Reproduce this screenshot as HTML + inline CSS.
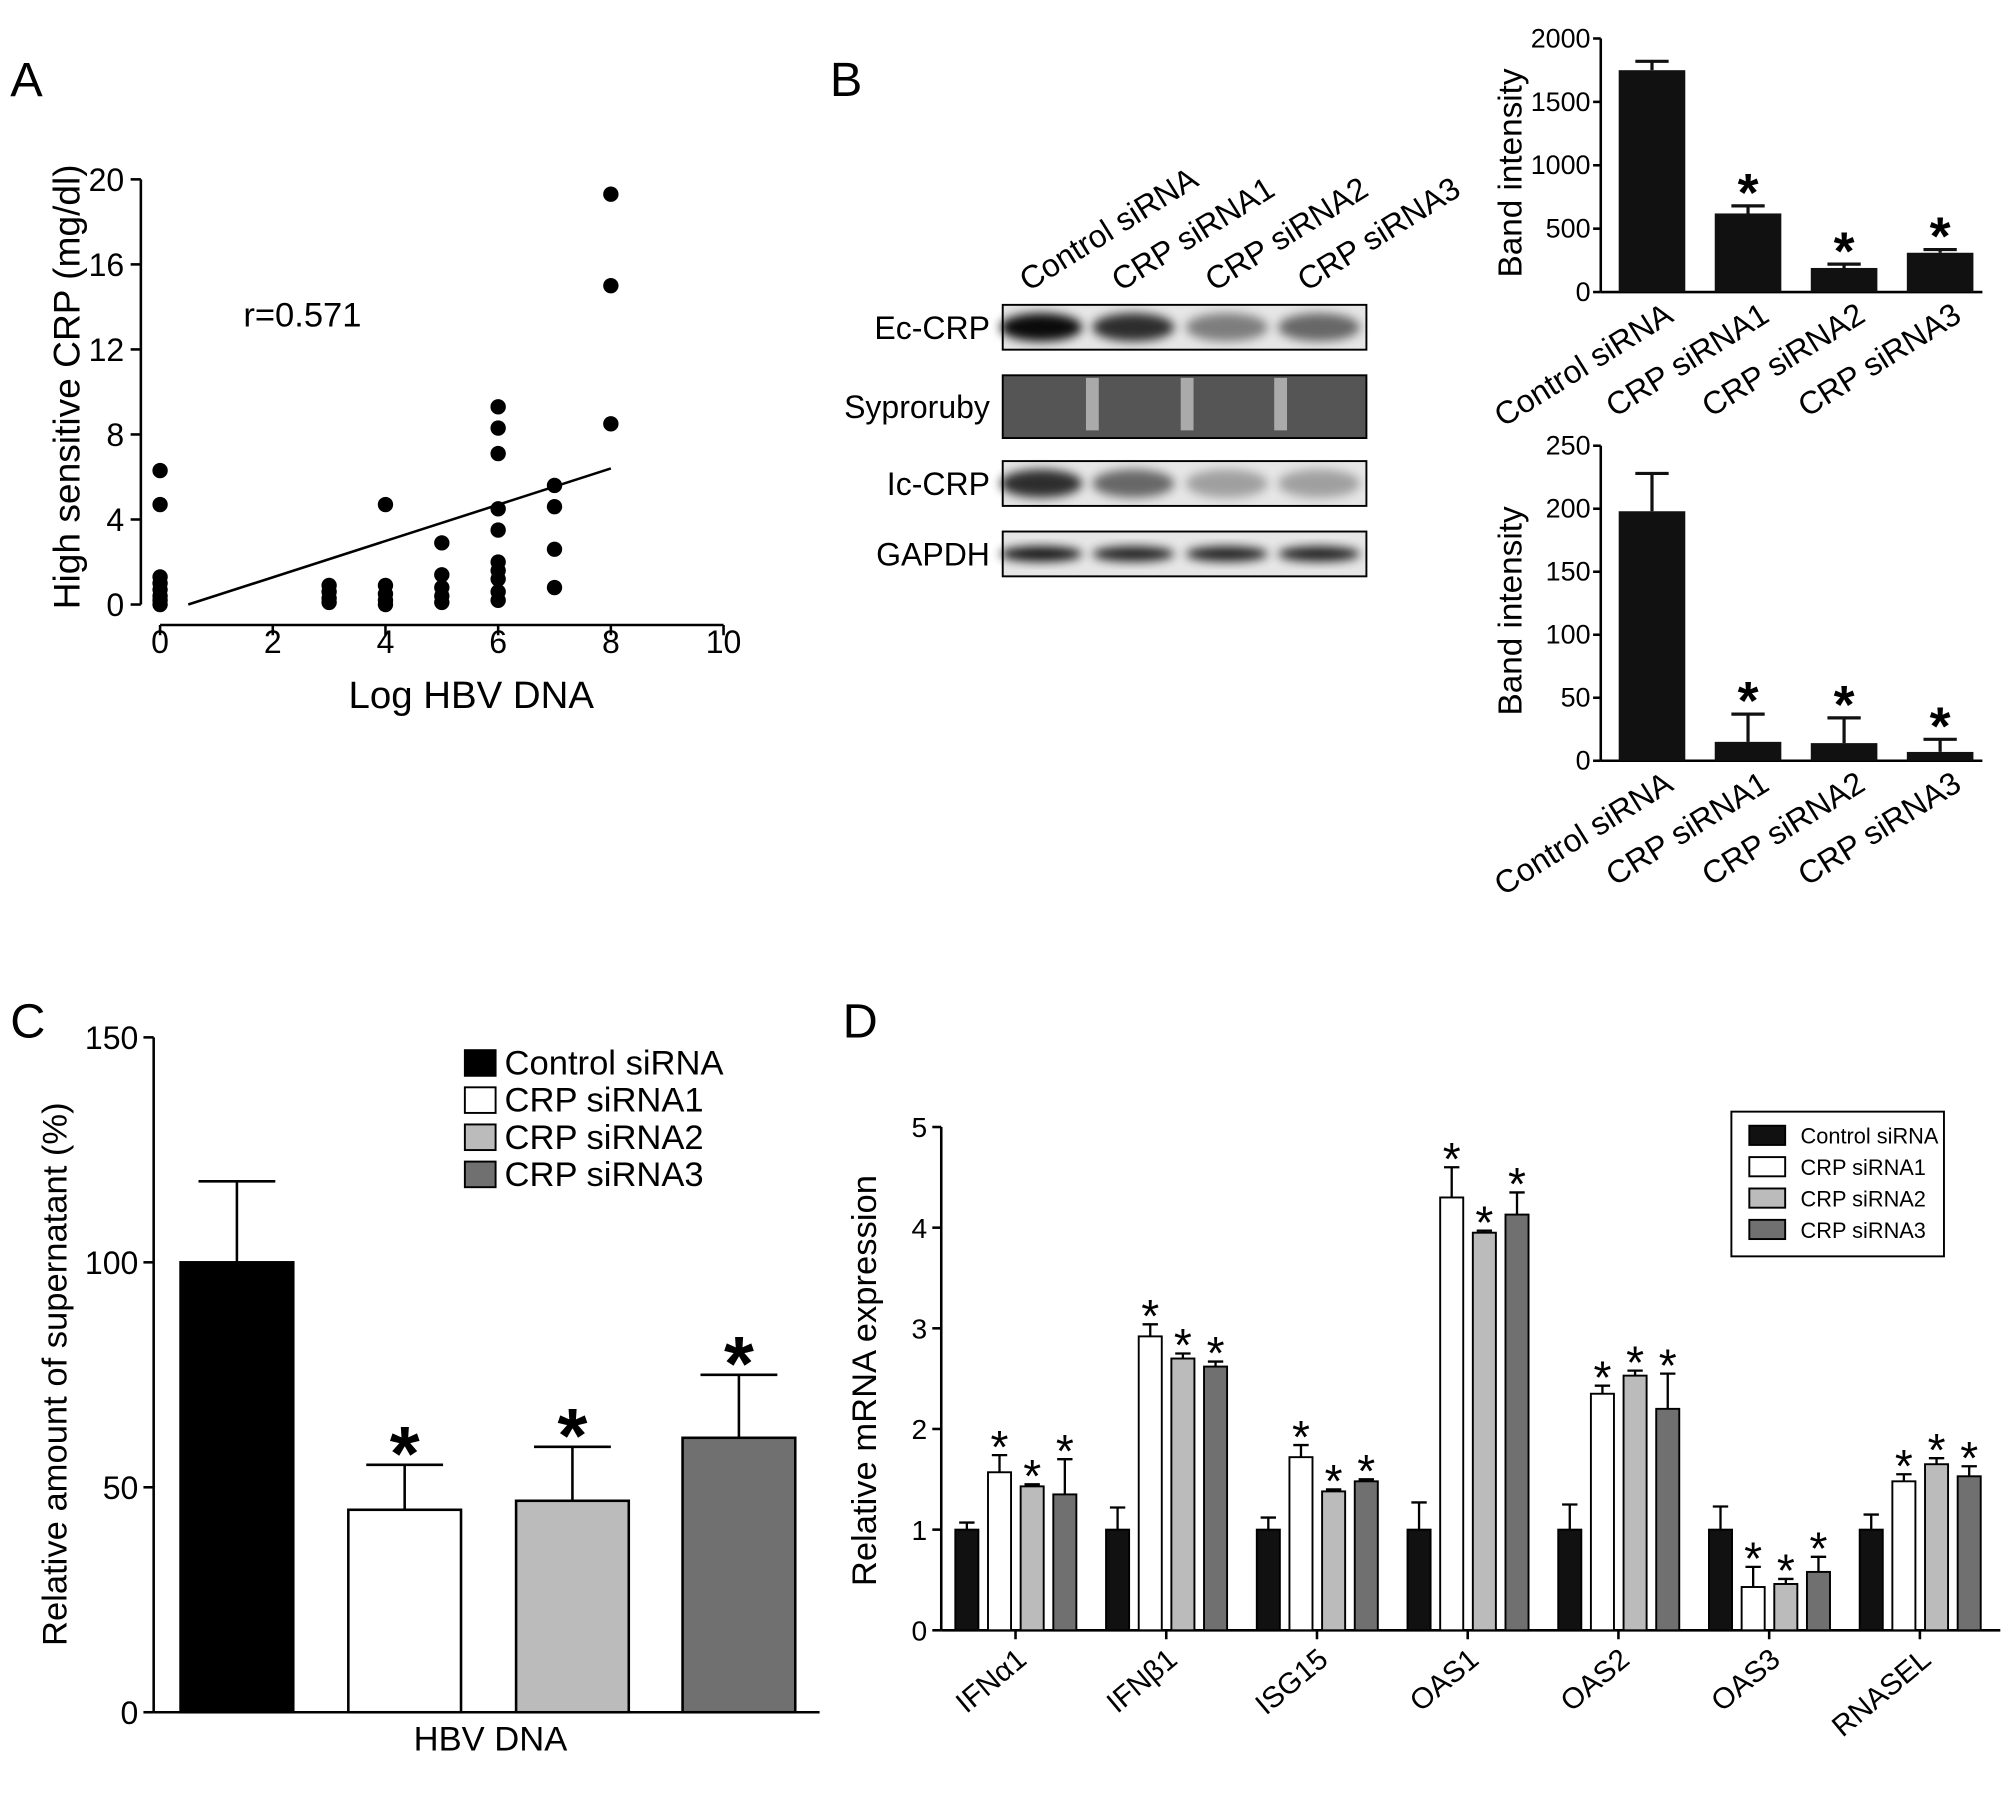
<!DOCTYPE html>
<html><head><meta charset="utf-8"><style>
body{margin:0;background:#fff}
svg{display:block;font-family:"Liberation Sans",Arial,sans-serif}
</style></head><body>
<svg id="fig" width="2008" height="1793" viewBox="0 0 1568 1400" xmlns="http://www.w3.org/2000/svg">
<defs><filter id="blur" x="-20%" y="-50%" width="140%" height="200%"><feGaussianBlur stdDeviation="4"/></filter></defs>
<rect width="1568" height="1400" fill="#fff"/>
<g id="pA"></g>
<g id="pB"></g>
<g id="pB1"></g>
<g id="pB2"></g>
<g id="pC"></g>
<g id="pD"></g>
</svg>
<script>
// Panel A data
const scatterX = [0,0,0,0,0,0,0,0, 3,3,3,3, 4,4,4,4,4, 5,5,5,5,5, 6,6,6,6,6,6,6,6,6,6, 7,7,7,7, 8,8,8];
const scatterY = [6.3,4.7,1.3,1.0,0.7,0.4,0.2,0, 0.9,0.6,0.3,0.1, 4.7,0.9,0.5,0.2,0, 2.9,1.4,0.8,0.4,0.1, 9.3,8.3,7.1,4.5,3.5,2.0,1.6,1.2,0.6,0.2, 5.6,4.6,2.6,0.8, 19.3,15,8.5];
const fitLine = [[0.5,0],[8,6.4]];
const aXTicks = [0,2,4,6,8,10];
const aYTicks = [0,4,8,12,16,20];
// Panel B data
const blotLanes = ["Control siRNA","CRP siRNA1","CRP siRNA2","CRP siRNA3"];
const ecValues = [1750,620,190,310];
const ecErrors = [70,60,30,25];
const ecTicks = [0,500,1000,1500,2000];
const icValues = [198,15,14,7];
const icErrors = [30,22,20,10];
const icTicks = [0,50,100,150,200,250];
// Panel C data
const cSeries = ["Control siRNA","CRP siRNA1","CRP siRNA2","CRP siRNA3"];
const cValues = [100,45,47,61];
const cErrors = [18,10,12,14];
const cTicks = [0,50,100,150];
// Panel D data
const dGenes = ["IFNα1","IFNβ1","ISG15","OAS1","OAS2","OAS3","RNASEL"];
const dControl = [1,1,1,1,1,1,1];
const dControlErr = [0.07,0.22,0.12,0.27,0.25,0.23,0.15];
const dSi1 = [1.57,2.92,1.72,4.3,2.35,0.43,1.48];
const dSi1Err = [0.17,0.12,0.12,0.3,0.08,0.2,0.07];
const dSi2 = [1.43,2.7,1.38,3.95,2.53,0.46,1.65];
const dSi2Err = [0.02,0.05,0.02,0.02,0.05,0.05,0.06];
const dSi3 = [1.35,2.62,1.48,4.13,2.2,0.58,1.53];
const dSi3Err = [0.35,0.05,0.02,0.22,0.35,0.15,0.1];
const dTicks = [0,1,2,3,4,5];

const NS="http://www.w3.org/2000/svg";
function mk(parent,tag,attrs,text){const e=document.createElementNS(NS,tag);for(const k in attrs)e.setAttribute(k,attrs[k]);if(text!==undefined)e.textContent=text;parent.appendChild(e);return e;}

// ---------- Panel A
(function(){
const g=document.getElementById('pA');
const sx=v=>125+v*44, sy=v=>472-v*16.6;
let t=mk(g,'text',{x:8,y:75,'font-size':38},'A');

let l=mk(g,'line',{x1:110,y1:sy(20),x2:110,y2:sy(0),stroke:'#000','stroke-width':2});

aYTicks.forEach(v=>{mk(g,'line',{x1:102,y1:sy(v),x2:110,y2:sy(v),stroke:'#000','stroke-width':2});
 let tt=mk(g,'text',{x:97,y:sy(v)+9,'font-size':25,'text-anchor':'end'},v);
 });
l=mk(g,'line',{x1:sx(0),y1:488,x2:sx(10),y2:488,stroke:'#000','stroke-width':2});

aXTicks.forEach(v=>{mk(g,'line',{x1:sx(v),y1:488,x2:sx(v),y2:496,stroke:'#000','stroke-width':2});
 let tt=mk(g,'text',{x:sx(v),y:510,'font-size':25,'text-anchor':'middle'},v);
 });
t=mk(g,'text',{x:368,y:553,'font-size':30,'text-anchor':'middle'},'Log HBV DNA');

t=mk(g,'text',{x:62,y:302,'font-size':29,'text-anchor':'middle',transform:'rotate(-90 62 302)'},'High sensitive CRP (mg/dl)');

t=mk(g,'text',{x:190,y:255,'font-size':27},'r=0.571');

l=mk(g,'line',{x1:sx(fitLine[0][0]),y1:sy(fitLine[0][1]),x2:sx(fitLine[1][0]),y2:sy(fitLine[1][1]),stroke:'#000','stroke-width':2});

scatterX.forEach((x,i)=>{const c=mk(g,'circle',{cx:sx(x),cy:sy(scatterY[i]),r:6,fill:'#000'});
 });
})();

// ---------- Panel B blot
(function(){
const g=document.getElementById('pB');
let t=mk(g,'text',{x:648,y:75,'font-size':38},'B');

const lx=[813,885,958,1030];
blotLanes.forEach((n,i)=>{let tt=mk(g,'text',{x:lx[i]-10,y:228,'font-size':25,transform:`rotate(-32 ${lx[i]-10} 228)`},n);
 });
const rows=[["Ec-CRP",238,273],["Syproruby",293,342],["Ic-CRP",360,395],["GAPDH",415,450]];
const dens={"Ec-CRP":[0.95,0.8,0.45,0.55],"Ic-CRP":[0.8,0.55,0.3,0.3],"GAPDH":[0.9,0.85,0.85,0.85]};
rows.forEach(r=>{
 let tt=mk(g,'text',{x:773,y:(r[1]+r[2])/2+9,'font-size':25,'text-anchor':'end'},r[0]);
 
 const bg=r[0]=="Syproruby"?'#555':'#e6e6e6';
 let b=mk(g,'rect',{x:783,y:r[1],width:284,height:r[2]-r[1],fill:bg,stroke:'#000','stroke-width':1.5});
 
 if(r[0]=="Syproruby"){[848,922,995].forEach(x=>mk(g,'rect',{x:x,y:r[1]+2,width:10,height:r[2]-r[1]-8,fill:'#aaa'}));}
 else lx.forEach((x,i)=>{const d=dens[r[0]][i];const e=mk(g,'ellipse',{cx:x,cy:(r[1]+r[2])/2,rx:32,ry:r[0]=="GAPDH"?6:11,fill:'#000',opacity:d,filter:'url(#blur)'});
  });
});
})();

function smallBar(gid,vals,errs,ticks,max,y0,h,labY){
const g=document.getElementById(gid);
const ax=1250, sy=v=>y0-v/max*h, cx=[1290,1365,1440,1515];
let l=mk(g,'line',{x1:ax,y1:sy(max),x2:ax,y2:y0,stroke:'#000','stroke-width':2});

l=mk(g,'line',{x1:ax,y1:y0,x2:1548,y2:y0,stroke:'#000','stroke-width':2});

ticks.forEach(v=>{mk(g,'line',{x1:ax-6,y1:sy(v),x2:ax,y2:sy(v),stroke:'#000','stroke-width':2});
 let t=mk(g,'text',{x:ax-8,y:sy(v)+7,'font-size':21,'text-anchor':'end'},v);
 });
let t=mk(g,'text',{x:1188,y:(y0+sy(max))/2+6,'font-size':26,'text-anchor':'middle',transform:`rotate(-90 1188 ${(y0+sy(max))/2+6})`},'Band intensity');

vals.forEach((v,i)=>{
 const b=mk(g,'rect',{x:cx[i]-26,y:sy(v),width:52,height:y0-sy(v),fill:'#111'});
 
 const ye=sy(v+errs[i]);
 const e=mk(g,'path',{d:`M${cx[i]} ${sy(v)}V${ye}M${cx[i]-13} ${ye}H${cx[i]+13}`,stroke:'#111','stroke-width':2.5,fill:'none'});
 
 if(i>0){const s=mk(g,'text',{x:cx[i],y:ye+4,'font-size':42,'font-weight':'bold','text-anchor':'middle'},'*');
  }
 const tl=mk(g,'text',{x:cx[i]+18,y:labY,'font-size':25,'text-anchor':'end',transform:`rotate(-32 ${cx[i]+18} ${labY})`},blotLanes[i]);
 
});
}
smallBar('pB1',ecValues,ecErrors,ecTicks,2000,228,198,250);
smallBar('pB2',icValues,icErrors,icTicks,250,594,246,616);

// ---------- Panel C
(function(){
const g=document.getElementById('pC');
const y0=1337, sy=v=>y0-v/150*527, cx=[185,316,447,577];
const fills=['#000','#fff','#bbb','#707070'];
let t=mk(g,'text',{x:8,y:810,'font-size':38},'C');

let l=mk(g,'line',{x1:120,y1:sy(150),x2:120,y2:y0,stroke:'#000','stroke-width':2});

l=mk(g,'line',{x1:120,y1:y0,x2:640,y2:y0,stroke:'#000','stroke-width':2});

cTicks.forEach(v=>{mk(g,'line',{x1:112,y1:sy(v),x2:120,y2:sy(v),stroke:'#000','stroke-width':2});
 let tt=mk(g,'text',{x:108,y:sy(v)+9,'font-size':25,'text-anchor':'end'},v);
 });
t=mk(g,'text',{x:52,y:1073,'font-size':27,'text-anchor':'middle',transform:'rotate(-90 52 1073)'},'Relative amount of supernatant (%)');

t=mk(g,'text',{x:383,y:1367,'font-size':27,'text-anchor':'middle'},'HBV DNA');

cValues.forEach((v,i)=>{
 const b=mk(g,'rect',{x:cx[i]-44,y:sy(v),width:88,height:y0-sy(v),fill:fills[i],stroke:'#000','stroke-width':2});
 
 const ye=sy(v+cErrors[i]);
 const e=mk(g,'path',{d:`M${cx[i]} ${sy(v)}V${ye}M${cx[i]-30} ${ye}H${cx[i]+30}`,stroke:'#000','stroke-width':2,fill:'none'});
 
 if(i>0){const s=mk(g,'text',{x:cx[i],y:ye+12,'font-size':60,'font-weight':'bold','text-anchor':'middle'},'*');
  }
});
cSeries.forEach((n,i)=>{
 const y=820+i*29;
 const r=mk(g,'rect',{x:363,y:y,width:24,height:20,fill:fills[i],stroke:'#000','stroke-width':1.5});
 
 const tt=mk(g,'text',{x:394,y:y+19,'font-size':27},n);
 
});
})();

// ---------- Panel D
(function(){
const g=document.getElementById('pD');
const y0=1273, sy=v=>y0-v/5*393, ax=735;
const fills=['#111','#fff','#bbb','#707070'];
const series=[dControl,dSi1,dSi2,dSi3], errs=[dControlErr,dSi1Err,dSi2Err,dSi3Err];
let t=mk(g,'text',{x:658,y:810,'font-size':38},'D');

let l=mk(g,'line',{x1:ax,y1:sy(5),x2:ax,y2:y0,stroke:'#000','stroke-width':2});

l=mk(g,'line',{x1:ax,y1:y0,x2:1562,y2:y0,stroke:'#000','stroke-width':2});

dTicks.forEach(v=>{mk(g,'line',{x1:ax-7,y1:sy(v),x2:ax,y2:sy(v),stroke:'#000','stroke-width':2});
 let tt=mk(g,'text',{x:ax-11,y:sy(v)+8,'font-size':22,'text-anchor':'end'},v);
 });
t=mk(g,'text',{x:684,y:1078,'font-size':27,'text-anchor':'middle',transform:'rotate(-90 684 1078)'},'Relative mRNA expression');

dGenes.forEach((gn,gi)=>{
 const gx=755+gi*117.7;
 series.forEach((s,si)=>{
  const cx=gx+si*25.5, v=s[gi];
  const b=mk(g,'rect',{x:cx-9,y:sy(v),width:18,height:y0-sy(v),fill:fills[si],stroke:'#000','stroke-width':1.5});
  
  const ye=sy(v+errs[si][gi]);
  const e=mk(g,'path',{d:`M${cx} ${sy(v)}V${ye}M${cx-6} ${ye}H${cx+6}`,stroke:'#000','stroke-width':1.8,fill:'none'});
  
  if(si>0){const st=mk(g,'text',{x:cx,y:ye+6,'font-size':36,'text-anchor':'middle'},'*');
   }
 });
 const lx=gx+48;
 mk(g,'line',{x1:gx+38,y1:y0,x2:gx+38,y2:y0+7,stroke:'#000','stroke-width':2});
 const tl=mk(g,'text',{x:lx,y:1298,'font-size':23,'text-anchor':'end',transform:`rotate(-40 ${lx} 1298)`},gn);
 
});
const lg=mk(g,'rect',{x:1352,y:868,width:166,height:113,fill:'#fff',stroke:'#000','stroke-width':1.5});

cSeries.forEach((n,i)=>{
 const y=879+i*24.5;
 const r=mk(g,'rect',{x:1366,y:y,width:28,height:15,fill:fills[i],stroke:'#000','stroke-width':1.5});
 
 const tt=mk(g,'text',{x:1406,y:y+14,'font-size':17},n);
 
});
})();
</script>
</body></html>
